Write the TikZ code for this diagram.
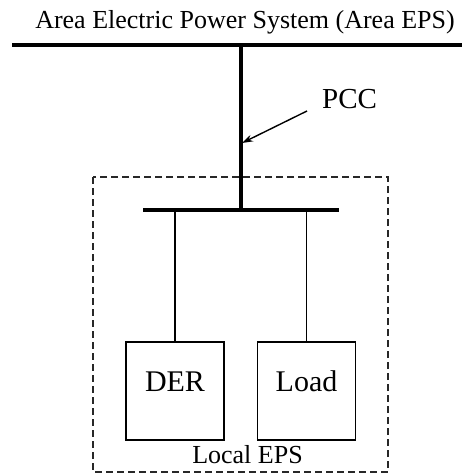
\documentclass[tikz,border=0pt]{standalone}
\usepackage{fontspec}
\setmainfont{Liberation Serif}
\usetikzlibrary{arrows.meta,positioning}
\definecolor{boxline}{RGB}{40,40,40}

\begin{document}
\begin{tikzpicture}[
      x=1pt,y=-1pt,
      bus/.style={line width=3.3pt},
      feeder/.style={line width=1.5pt},
      device/.style={draw,line width=1.4pt,minimum width=98pt,
        minimum height=98pt,inner sep=0pt,text height=0pt,text depth=0pt,
        font=\fontsize{30}{34}\selectfont},
      region/.style={draw=boxline,line width=1.4pt,dash pattern=on 7pt off 4pt},
      tag/.style={inner sep=0pt,font=\fontsize{26}{30}\selectfont},
      arr/.style={-{Stealth[length=11pt,width=7pt]},line width=1.4pt}
    ]
      \useasboundingbox (0,0) rectangle (462,473);

      % area EPS and the PCC
      \node[tag,anchor=base](area) at (245,28.5){Area Electric Power System (Area EPS)};
      \coordinate (mainL) at (12,45);
      \coordinate (mainR) at (462,45);
      \coordinate (tapTop) at (241,45);
      \draw[line width=4pt] (mainL) -- (mainR);

      \node[tag,anchor=base west,font=\fontsize{29}{33}\selectfont](pcc) at (322,108.3){PCC};
      \coordinate (pccFrom) at (307,111);
      \coordinate (pccTip) at (242,143);

      % local EPS
      \draw[region] (93,177) rectangle (388,472);
      \coordinate (localL) at (143,210);
      \coordinate (localR) at (339,210);
      \coordinate (tapBot) at (241,210);
      \draw[bus] (localL) -- (localR);
      \draw[bus] (tapTop) -- (tapBot);
      \draw[arr] (pccFrom) -- (pccTip);

      \node[device](der) at (175,391){DER};
      \node[device](load) at (306.5,391){Load};
      \draw[feeder] (der.north |- localL) -- (der.north);
      \draw[feeder] (load.north |- localL) -- (load.north);

      \node[tag,anchor=base](local) at (247.5,463.3){Local EPS};
    \end{tikzpicture}
\end{document}
